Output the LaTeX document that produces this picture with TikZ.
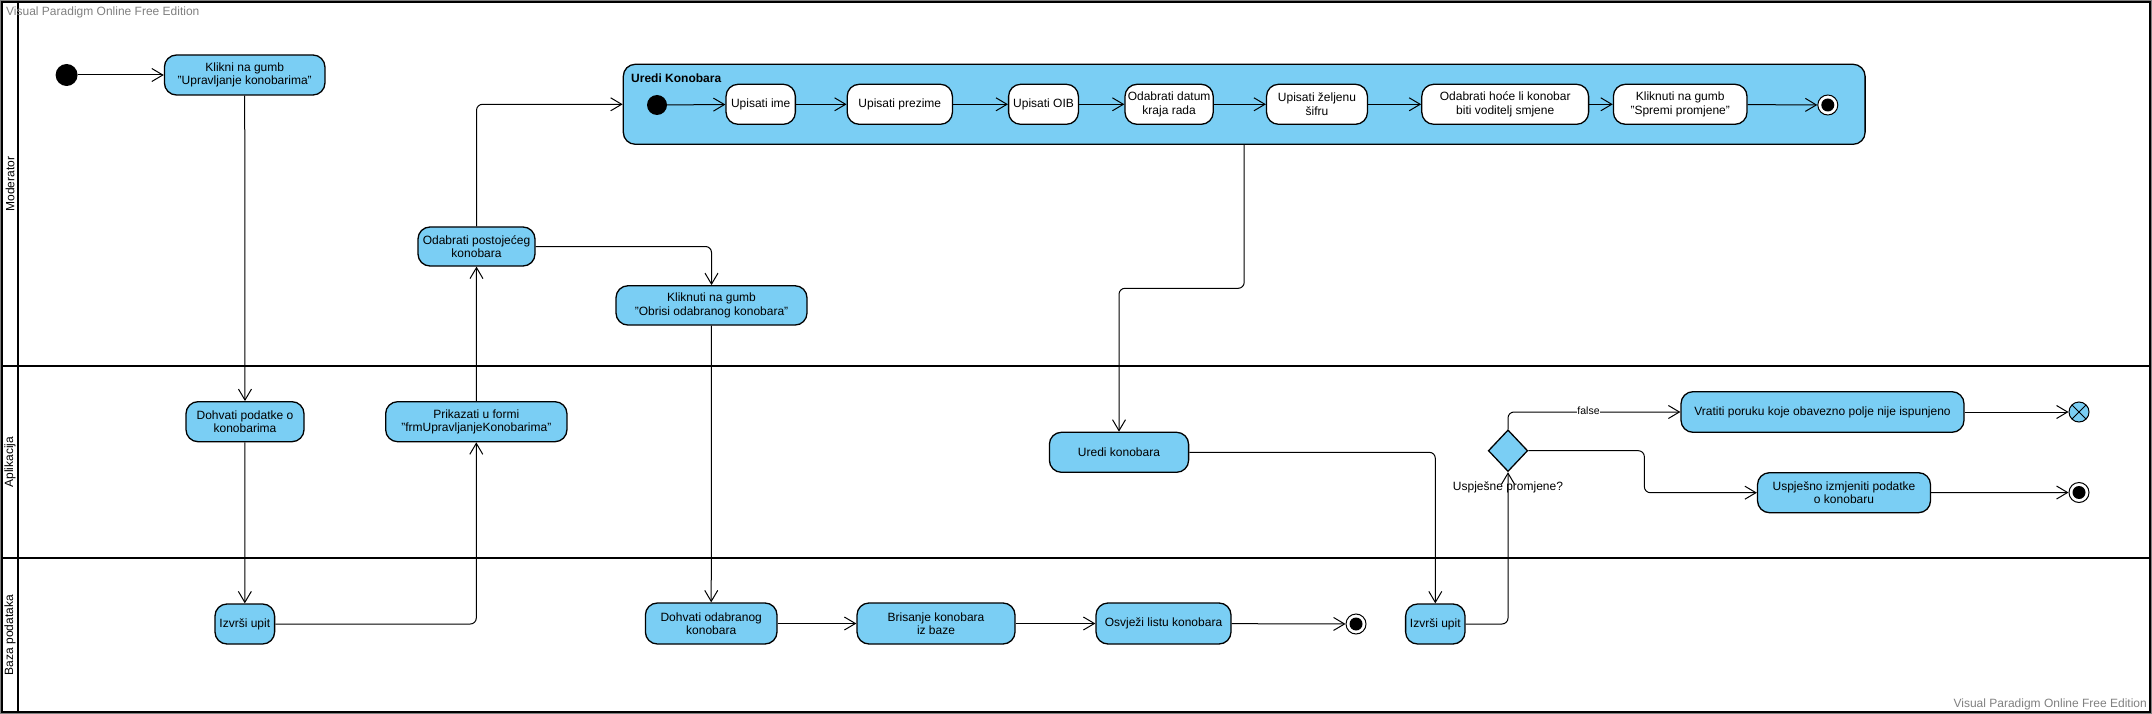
\documentclass[tikz,border=0pt]{standalone}
\usepackage{fontspec}
\setmainfont{Liberation Sans}
\usetikzlibrary{arrows.meta,shapes.geometric,calc}
\definecolor{vpblue}{HTML}{7ACEF4}
\definecolor{wmgray}{HTML}{808080}
\begin{document}
\begin{tikzpicture}[x=1pt,y=-1pt,
  txt/.style={font=\fontsize{12}{13.5}\selectfont},
  act/.style={txt,draw=black,line width=1.3pt,fill=vpblue,rounded corners=12pt,align=center,inner sep=0pt},
  inact/.style={act,fill=white},
  flow/.style={line width=1pt,rounded corners=6pt,-{Straight Barb[length=11pt,width=13pt,line width=1pt]}},
  initnode/.style={circle,fill=black,inner sep=0pt,minimum size=22pt},
  finalnode/.style={circle,draw=black,line width=1pt,fill=white,inner sep=0pt,minimum size=20pt,
     path picture={\fill[black] (path picture bounding box.center) circle (6.5pt);}},
  flowfinal/.style={circle,draw=black,line width=1pt,fill=vpblue,inner sep=0pt,minimum size=20pt,
     path picture={\draw[line width=1pt] ([shift={(45:10pt)}]path picture bounding box.center) -- ([shift={(225:10pt)}]path picture bounding box.center);
                   \draw[line width=1pt] ([shift={(135:10pt)}]path picture bounding box.center) -- ([shift={(315:10pt)}]path picture bounding box.center);}},
  lanelabel/.style={txt,rotate=90},
  wm/.style={font=\fontsize{12}{13}\selectfont,text=wmgray,inner sep=0pt}
]
\useasboundingbox (0,0) rectangle (2152,714);
% frame and lanes
\draw[wmgray,line width=1pt] (0.5,0.5) rectangle (2151.5,713.5);
\draw[black,line width=1.5pt] (2,2) rectangle (2150,712);
\draw[black,line width=2pt] (18,2) -- (18,712);
\draw[black,line width=2.5pt] (2,366) -- (2150,366);
\draw[black,line width=2.5pt] (2,558) -- (2150,558);
\node[lanelabel] (lmod) at (10,184) {Moderator};
\node[lanelabel] (lapl) at (10,462) {Aplikacija};
\node[lanelabel] (lbaz) at (10,635) {Baza podataka};
\node[wm,anchor=west] (wm1) at (6,12) {Visual Paradigm Online Free Edition};
\node[wm,anchor=east] (wm2) at (2147,704) {Visual Paradigm Online Free Edition};

% Moderator lane
\node[initnode] (init) at (66.6,75) {};
\node[act,minimum width=160.5pt,minimum height=40pt] (klikni) at (244.7,75) {Klikni na gumb\\"Upravljanje konobarima"};
\node[act,minimum width=117pt,minimum height=39pt] (odabrati) at (476.5,246.5) {Odabrati postojećeg\\konobara};
\node[act,minimum width=191pt,minimum height=39.3pt] (obrisi) at (711.5,305.4) {Kliknuti na gumb\\"Obrisi odabranog konobara"};

% Uredi Konobara container
\node[draw=black,line width=1.3pt,fill=vpblue,rounded corners=12pt,minimum width=1241.8pt,minimum height=80pt,inner sep=0pt] (urediK) at (1244.2,104.3) {};
\node[font=\fontsize{12}{13.5}\selectfont\bfseries,anchor=west,inner sep=0pt] (urediKt) at (631,78.5) {Uredi Konobara};
\node[initnode,minimum size=20pt] (init2) at (657,105) {};
\node[inact,minimum width=69.3pt,minimum height=40pt] (ime) at (760.7,104.3) {Upisati ime};
\node[inact,minimum width=105.2pt,minimum height=40pt] (prezime) at (899.8,104.3) {Upisati prezime};
\node[inact,minimum width=69.8pt,minimum height=40pt] (oib) at (1043.5,104.3) {Upisati OIB};
\node[inact,minimum width=88.2pt,minimum height=40pt] (datum) at (1169.1,104.3) {Odabrati datum\\kraja rada};
\node[inact,minimum width=100.9pt,minimum height=40pt] (sifra) at (1317,104.3) {Upisati željenu\\šifru};
\node[inact,minimum width=166.8pt,minimum height=40pt] (voditelj) at (1505.2,104.3) {Odabrati hoće li konobar\\biti voditelj smjene};
\node[inact,minimum width=133.6pt,minimum height=40pt] (spremi) at (1680.2,104.3) {Kliknuti na gumb\\"Spremi promjene"};
\node[finalnode] (fin2) at (1827.8,105) {};

% Aplikacija lane
\node[act,minimum width=118pt,minimum height=40pt] (dohvati1) at (245,421.7) {Dohvati podatke o\\konobarima};
\node[act,minimum width=181.3pt,minimum height=40pt] (prikazati) at (476.3,421.7) {Prikazati u formi\\"frmUpravljanjeKonobarima"};
\node[act,minimum width=139.2pt,minimum height=40pt] (ured) at (1119,452.3) {Uredi konobara};
\node[diamond,draw=black,line width=1.3pt,fill=vpblue,inner sep=0pt,minimum width=39.4pt,minimum height=41.7pt] (dec) at (1508,450.7) {};
\node[txt,inner sep=0pt] (declbl) at (1508,487.7) {Uspješne promjene?};
\node[act,minimum width=283pt,minimum height=40.6pt] (vratiti) at (1822.5,412) {Vratiti poruku koje obavezno polje nije ispunjeno};
\node[act,minimum width=173pt,minimum height=40pt] (uspjesno) at (1844,492.7) {Uspješno izmjeniti podatke\\o konobaru};
\node[flowfinal] (ff) at (2079,412) {};
\node[finalnode] (fin3) at (2079,492.5) {};

% Baza podataka lane
\node[act,minimum width=59.6pt,minimum height=40pt] (izvrsi1) at (244.8,624) {Izvrši upit};
\node[act,minimum width=131.6pt,minimum height=41pt] (dohvati2) at (711.2,623.5) {Dohvati odabranog\\konobara};
\node[act,minimum width=158pt,minimum height=41pt] (brisanje) at (936,623.5) {Brisanje konobara\\iz baze};
\node[act,minimum width=135pt,minimum height=41pt] (osvjezi) at (1163.5,623.5) {Osvježi listu konobara};
\node[finalnode] (fin1) at (1356,624) {};
\node[act,minimum width=59.4pt,minimum height=40pt] (izvrsi2) at (1435.3,624) {Izvrši upit};

% flows
\draw[flow] (init) -- (klikni);
\draw[flow] (klikni) -- (dohvati1);
\draw[flow] (dohvati1) -- (izvrsi1);
\draw[flow] (izvrsi1.east) -| (prikazati.south);
\draw[flow] (prikazati.north) -- (odabrati.south);
\draw[flow] (odabrati.north) |- (urediK.west);
\draw[flow] (odabrati.east) -| (obrisi.north);
\draw[flow] (obrisi) -- (dohvati2);
\draw[flow] (dohvati2) -- (brisanje);
\draw[flow] (brisanje) -- (osvjezi);
\draw[flow] (osvjezi) -- (fin1);
\draw[flow] (init2) -- (ime);
\draw[flow] (ime) -- (prezime);
\draw[flow] (prezime) -- (oib);
\draw[flow] (oib) -- (datum);
\draw[flow] (datum) -- (sifra);
\draw[flow] (sifra) -- (voditelj);
\draw[flow] (voditelj) -- (spremi);
\draw[flow] (spremi) -- (fin2);
\draw[flow] (urediK.south) -- (1244.2,288.3) -| (ured.north);
\draw[flow] (ured.east) -| (izvrsi2.north);
\draw[flow] (izvrsi2.east) -| (dec.south);
\draw[flow] (dec.north) |- (vratiti.west);
\node[font=\fontsize{10.5}{12}\selectfont,fill=white,inner sep=0.5pt] (falselbl) at (1588.5,411) {false};
\draw[flow] (dec.east) -- ++(116,0) |- (uspjesno.west);
\draw[flow] (vratiti) -- (ff);
\draw[flow] (uspjesno) -- (fin3);
\end{tikzpicture}
\end{document}
